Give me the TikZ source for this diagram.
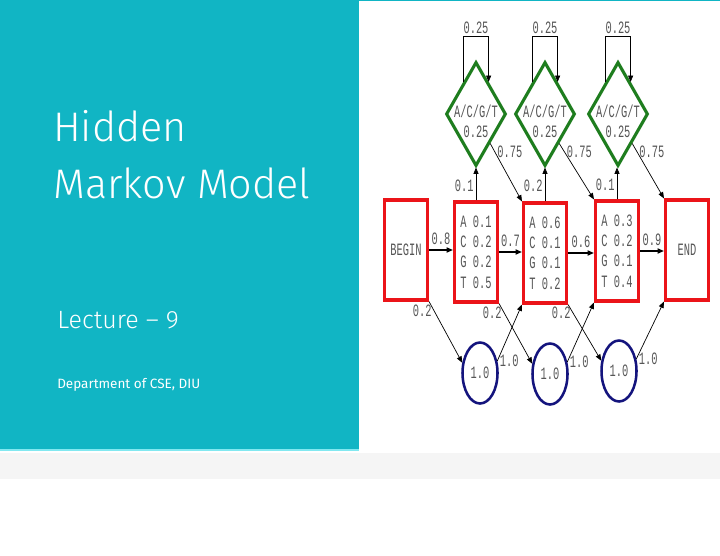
\documentclass[tikz,border=0pt]{standalone}
\usepackage{fontspec}
\setmainfont{Fira Sans}
\newfontfamily\thinfont{Fira Sans Light}
\setmonofont{Liberation Mono}[FakeStretch=0.6]
\usetikzlibrary{shapes.geometric,arrows.meta,calc}
\definecolor{slideteal}{RGB}{17,181,196}
\definecolor{slidecyan}{RGB}{130,232,240}
\definecolor{slidegray}{RGB}{245,245,245}
\definecolor{hmmred}{RGB}{235,20,25}
\definecolor{hmmgreen}{RGB}{30,125,30}
\definecolor{hmmnavy}{RGB}{20,20,125}
\definecolor{hmmtext}{RGB}{85,85,85}
\begin{document}
\begin{tikzpicture}[x=0.025cm,y=-0.025cm,
    mono/.style={font=\ttfamily\fontsize{12.3}{14.5}\selectfont,text=hmmtext},
    statebox/.style={draw=hmmred,line width=2.2pt,minimum width=1.075cm,
      minimum height=2.5cm,inner sep=1pt,mono,align=left},
    insertdia/.style={diamond,draw=hmmgreen,line width=2.2pt,
      minimum width=1.5cm,minimum height=2.6cm,inner sep=0pt},
    deletecirc/.style={ellipse,draw=hmmnavy,line width=1.8pt,
      minimum width=0.875cm,minimum height=1.525cm,inner sep=0pt,mono},
    arr/.style={-{Triangle[length=4.5pt,width=3.6pt]},line width=0.5pt},
    prob/.style={mono,inner sep=1.5pt}]
    \useasboundingbox (0,0) rectangle (720,556);
    % Slide background
    \fill[white] (0,0) rectangle (720,556);
    \fill[slideteal] (0,0) rectangle (359,449);
    \fill[slidecyan] (0,449) rectangle (359,451);
    \fill[slidegray] (0,453) rectangle (720,479);
    \fill[slideteal] (359,0) rectangle (720,1.5);

    % Title panel
    \node[anchor=base west,inner sep=0pt,text=white,font=\thinfont\fontsize{29.4}{36}\selectfont] (title1) at (53,142) {Hidden};
    \node[anchor=base west,inner sep=0pt,text=white,font=\thinfont\fontsize{29.4}{36}\selectfont] (title2) at (53,199) {Markov Model};
    \node[anchor=base west,inner sep=0pt,text=white,font=\thinfont\fontsize{17.8}{22}\selectfont] (lecture) at (57,328) {Lecture – 9};
    \node[anchor=base west,inner sep=0pt,text=white,font=\fontsize{9.6}{12}\selectfont] (dept) at (57,388) {Department of CSE, DIU};

    % Match states
    \node[statebox,align=center] (beginst) at (406,250) {BEGIN};
    \node[statebox] (m1) at (476,252) {A 0.1\\C 0.2\\G 0.2\\T 0.5};
    \node[statebox] (m2) at (545,253) {A 0.6\\C 0.1\\G 0.1\\T 0.2};
    \node[statebox] (m3) at (617,251) {A 0.3\\C 0.2\\G 0.1\\T 0.4};
    \node[statebox,align=center] (endst) at (687,250) {END};

    % Insert states
    \foreach \i/\x in {i1/476, i2/545, i3/618}
        \node[insertdia,label={[prob,align=center,yshift=-5pt]center:{A/C/G/T\\0.25}}] (\i) at (\x,114) {};

    % Delete states
    \node[deletecirc] (d1) at (480,373) {1.0};
    \node[deletecirc] (d2) at (550,374) {1.0};
    \node[deletecirc] (d3) at (619,371) {1.0};

    % Match to match
    \foreach \a/\b/\p in {beginst/m1/0.8, m1/m2/0.7, m2/m3/0.6, m3/endst/0.9}
        \draw[arr,line width=1pt] (\a.east) -- node[prob,above=2pt] {\p} (\a.east -| \b.west);

    % Match to insert
    \foreach \m/\i/\p in {m1/i1/0.1, m2/i2/0.2, m3/i3/0.1}
        \draw[arr] (\m.north) -- node[prob,left,pos=0.45] {\p} (\m.north |- \i.south);

    % Insert self loops
    \foreach \i in {i1, i2, i3}
        \draw[arr] ($(\i.north)!0.4!(\i.west)$) -- ++(0,-46)
            -| node[prob,above,pos=0.25] {0.25} ($(\i.north)!0.4!(\i.east)$);

    % Insert to next match
    \foreach \i/\n in {i1/m2, i2/m3, i3/endst}
        \draw[arr] ($(\i.east)!0.55!(\i.south)$) -- node[prob,right,pos=0.15] {0.75} (\n.north west);

    % Match to delete
    \foreach \m/\d in {beginst/d1, m1/d2, m2/d3}
        \draw[arr] (\m.south east) -- node[prob,left,pos=0.15] {0.2} (\d.150);

    % Delete to next match
    \foreach \d/\n in {d1/m2, d2/m3, d3/endst}
        \draw[arr] (\d.35) -- node[prob,right,pos=0] {1.0} (\n.south west);
\end{tikzpicture}
\end{document}
